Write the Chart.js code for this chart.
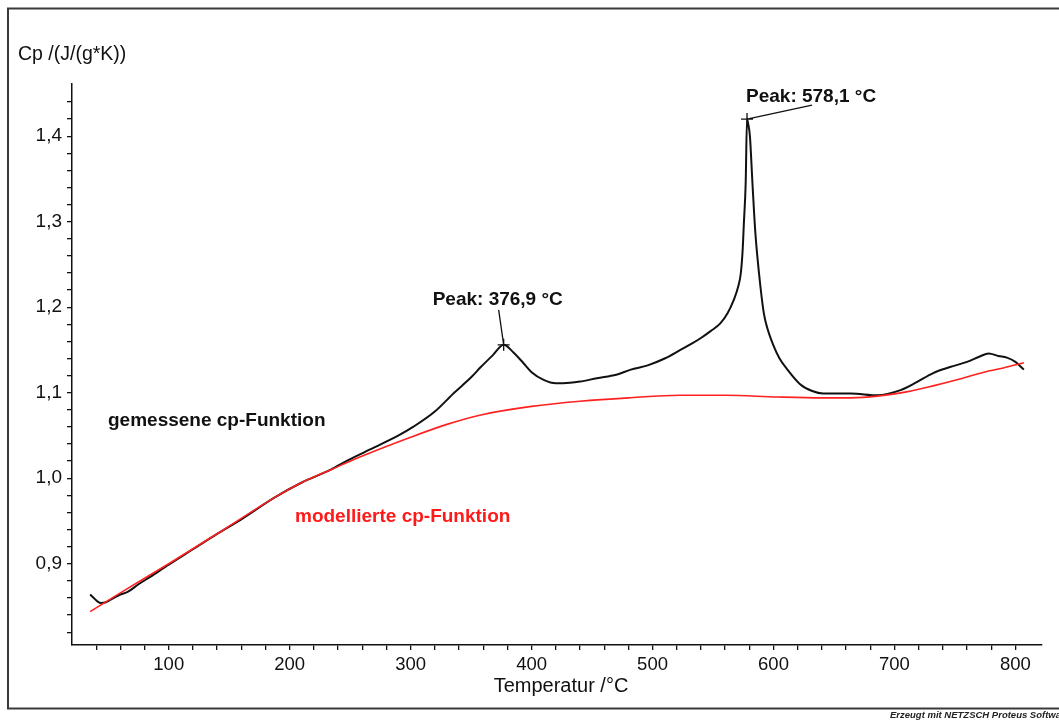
<!DOCTYPE html>
<html>
<head>
<meta charset="utf-8">
<script src="https://cdn.jsdelivr.net/npm/chart.js@4.4.1/dist/chart.umd.min.js"></script>
<style>
  html, body { margin: 0; padding: 0; background: #fff; }
  canvas { display: block; }
</style>
</head>
<body>
<canvas id="cpChart" width="1059" height="720"></canvas>
<script>
// gemessene cp-Funktion (Temperatur °C / Cp J/(g*K))
var measuredT = [35, 38, 41, 44, 48, 52, 60, 66, 75, 85, 100, 120, 140, 160, 187, 210, 234, 248, 270, 290,
  302, 320, 336, 350, 358, 368, 376.9, 385, 393, 400, 410, 420, 426, 440, 454, 470, 482, 496, 510, 523,
  532, 540, 548, 556, 562, 567, 571, 573, 574.5, 575.5, 577, 578.1, 579, 580.5, 582.6, 585, 588, 592, 595, 600, 605,
  611, 622, 632, 641, 664, 686, 705, 718, 732, 746, 760, 770, 778, 786, 793, 800, 807];
var measuredCp = [0.864, 0.860, 0.856, 0.854, 0.855, 0.858, 0.864, 0.867, 0.876, 0.885, 0.899, 0.917, 0.935, 0.952, 0.977, 0.995, 1.010, 1.021, 1.036, 1.050,
  1.060, 1.078, 1.100, 1.118, 1.130, 1.144, 1.156, 1.147, 1.135, 1.124, 1.115, 1.111, 1.111, 1.113, 1.117, 1.121, 1.127, 1.132, 1.140, 1.150,
  1.157, 1.164, 1.172, 1.181, 1.193, 1.208, 1.225, 1.240, 1.267, 1.298, 1.345, 1.420, 1.415, 1.400, 1.345, 1.287, 1.240, 1.193, 1.175, 1.155, 1.140,
  1.128, 1.110, 1.102, 1.099, 1.099, 1.097, 1.103, 1.112, 1.123, 1.130, 1.136, 1.142, 1.146, 1.143, 1.141, 1.136, 1.127];

// modellierte cp-Funktion
var modelT = [35, 60, 100, 150, 187, 210, 234, 260, 300, 330, 358, 400, 440, 480, 523, 560, 603, 640, 664, 686, 710, 732, 754, 774, 790, 807];
var modelCp = [0.844, 0.866, 0.900, 0.944, 0.977, 0.995, 1.010, 1.026, 1.048, 1.063, 1.074, 1.084, 1.090, 1.094, 1.097, 1.097, 1.095, 1.094, 1.094, 1.096, 1.101, 1.108, 1.116, 1.124, 1.129, 1.135];

// Peaks
var peakT = [376.9, 578.1];
var peakCp = [1.156, 1.420];
var peakLabels = ['Peak: 376,9 °C', 'Peak: 578,1 °C'];

// Achsen
var xTicks = [];
for (var t = 40; t <= 800; t += 20) xTicks.push(t);
var yTicks = [];
for (var c = 82; c <= 144; c += 2) yTicks.push(c / 100);

function toPoints(xs, ys) {
  return xs.map(function(x, i) { return { x: x, y: ys[i] }; });
}

var FONT = '"Liberation Sans", Arial, sans-serif';

var extras = {
  id: 'extras',
  beforeDraw: function(chart) {
    var ctx = chart.ctx;
    ctx.save();
    ctx.fillStyle = '#fff';
    ctx.fillRect(0, 0, chart.width, chart.height);
    ctx.restore();
  },
  afterDraw: function(chart) {
    var ctx = chart.ctx;
    var xs = chart.scales.x, ys = chart.scales.y;
    ctx.save();

    // Rahmen
    ctx.strokeStyle = '#3a3a3a';
    ctx.lineWidth = 2;
    ctx.strokeRect(8, 8.5, 1080, 700);

    // Achsentitel
    ctx.fillStyle = '#111';
    ctx.font = '19.5px ' + FONT;
    ctx.textAlign = 'left';
    ctx.textBaseline = 'alphabetic';
    ctx.fillText('Cp /(J/(g*K))', 18, 60);
    ctx.font = '20px ' + FONT;
    ctx.textAlign = 'center';
    ctx.fillText('Temperatur /°C', 561, 692);

    // Kurvenbeschriftungen
    ctx.textAlign = 'left';
    ctx.font = 'bold 19px ' + FONT;
    ctx.fillStyle = '#111';
    ctx.fillText('gemessene cp-Funktion', 108, 426);
    ctx.fillStyle = '#ff1a1a';
    ctx.fillText('modellierte cp-Funktion', 295, 522);

    // Peaks
    var offsets = [
      { lx: -71, ly: -40, ex: -5, ey: -35 },
      { lx: -1, ly: -17, ex: 65, ey: -14 }
    ];
    ctx.strokeStyle = '#111';
    ctx.fillStyle = '#111';
    ctx.lineWidth = 1.3;
    for (var i = 0; i < peakT.length; i++) {
      var px = xs.getPixelForValue(peakT[i]);
      var py = ys.getPixelForValue(peakCp[i]);
      var o = offsets[i];
      ctx.beginPath();
      ctx.moveTo(px - 6, py); ctx.lineTo(px + 6, py);
      ctx.moveTo(px, py - 6); ctx.lineTo(px, py + 6);
      ctx.moveTo(px, py); ctx.lineTo(px + o.ex, py + o.ey);
      ctx.stroke();
      ctx.fillText(peakLabels[i], px + o.lx, py + o.ly);
    }

    // Fußzeile
    ctx.font = 'italic bold 9.5px ' + FONT;
    ctx.fillStyle = '#222';
    ctx.fillText('Erzeugt mit NETZSCH Proteus Software', 890, 718);
    ctx.restore();
  }
};

var ctx = document.getElementById('cpChart').getContext('2d');
var cpChart = new Chart(ctx, {
  type: 'line',
  data: {
    datasets: [
      {
        label: 'modellierte cp-Funktion',
        data: toPoints(modelT, modelCp),
        borderColor: '#ff2020',
        borderWidth: 1.6,
        pointRadius: 0,
        cubicInterpolationMode: 'monotone',
        fill: false
      },
      {
        label: 'gemessene cp-Funktion',
        data: toPoints(measuredT, measuredCp),
        borderColor: '#111',
        borderWidth: 2,
        pointRadius: 0,
        cubicInterpolationMode: 'monotone',
        fill: false
      }
    ]
  },
  options: {
    responsive: false,
    animation: false,
    devicePixelRatio: 1,
    layout: { padding: { top: 84, right: 17, left: 0, bottom: 0 } },
    plugins: {
      legend: { display: false },
      tooltip: { enabled: false }
    },
    scales: {
      x: {
        type: 'linear',
        min: 20,
        max: 822,
        afterBuildTicks: function(scale) {
          scale.ticks = xTicks.map(function(v) { return { value: v }; });
        },
        afterFit: function(scale) { scale.height = 75; },
        grid: { drawOnChartArea: false, drawTicks: true, tickLength: 5, color: '#111', lineWidth: 1.3 },
        border: { display: true, color: '#111', width: 1.5 },
        ticks: {
          autoSkip: false,
          maxRotation: 0,
          padding: 4,
          color: '#111',
          font: { family: FONT, size: 18.5 },
          callback: function(v) { return v % 100 === 0 ? String(v) : ''; }
        }
      },
      y: {
        type: 'linear',
        min: 0.805,
        max: 1.461,
        afterBuildTicks: function(scale) {
          scale.ticks = yTicks.map(function(v) { return { value: v }; });
        },
        afterFit: function(scale) { scale.width = 72; },
        grid: { drawOnChartArea: false, drawTicks: true, tickLength: 5, color: '#111', lineWidth: 1.3 },
        border: { display: true, color: '#111', width: 1.5 },
        ticks: {
          autoSkip: false,
          padding: 5,
          color: '#111',
          font: { family: FONT, size: 19 },
          callback: function(v) {
            var r = Math.round(v * 10);
            return Math.abs(v * 10 - r) < 1e-6 ? (r / 10).toFixed(1).replace('.', ',') : '';
          }
        }
      }
    }
  },
  plugins: [extras]
});
</script>
</body>
</html>
